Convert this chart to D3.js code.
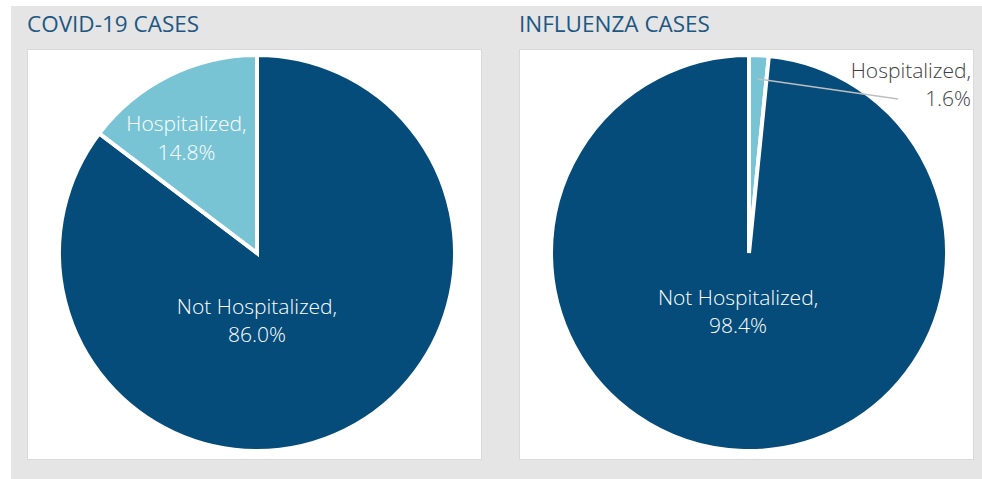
<!DOCTYPE html>
<html>
<head>
<meta charset="utf-8">
<script src="https://cdn.jsdelivr.net/npm/d3@7"></script>
<style>
  html, body { margin: 0; padding: 0; background: #fff; }
  text { font-family: "Open Sans", Lato, sans-serif; font-weight: 300; }
  text.title { font-weight: 400; }
</style>
</head>
<body>
<div id="chart"></div>
<script>
// chart data
const covidTitle = 'COVID-19 CASES';
const covidCategories = ['Not Hospitalized', 'Hospitalized'];
const covidValues = [86.0, 14.8];

const fluTitle = 'INFLUENZA CASES';
const fluCategories = ['Hospitalized', 'Not Hospitalized'];
const fluValues = [1.6, 98.4];

const colors = { 'Not Hospitalized': '#054C7A', 'Hospitalized': '#79C4D4' };

const width = 982, height = 479;

const svg = d3.select('#chart')
    .append('svg')
    .attr('width', width)
    .attr('height', height);

// gray background panel
svg.append('rect')
    .attr('x', 11).attr('y', 6)
    .attr('width', width - 11).attr('height', height - 6)
    .attr('fill', '#E5E5E5');

function drawPie(opts) {
    const { x0, title, categories, values, labelPos } = opts;
    const boxW = 454, boxH = 410, boxY = 49;
    const g = svg.append('g').attr('transform', `translate(${x0},0)`);

    g.append('text')
        .attr('class', 'title')
        .attr('x', 0)
        .attr('y', 31.5)
        .attr('font-size', '22.5px')
        .attr('fill', '#1D5782')
        .text(title);

    g.append('rect')
        .attr('x', 0.5).attr('y', boxY + 0.5)
        .attr('width', boxW).attr('height', boxH)
        .attr('fill', '#fff')
        .attr('stroke', '#D9D9D9')
        .attr('stroke-width', 1);

    const r = 198;
    const cx = 230, cy = 253;
    const data = categories.map((c, i) => ({ name: c, value: values[i] }));

    const pie = d3.pie().sort(null).value(d => d.value);
    const arcs = pie(data);
    const arc = d3.arc().innerRadius(0).outerRadius(r);

    const pg = g.append('g').attr('transform', `translate(${cx},${cy})`);

    pg.selectAll('path')
        .data(arcs)
        .enter()
        .append('path')
        .attr('d', arc)
        .attr('fill', d => colors[d.data.name])
        .attr('stroke', '#fff')
        .attr('stroke-width', 4)
        .attr('stroke-linejoin', 'miter');

    // data labels
    arcs.forEach(d => {
        const lp = labelPos[d.data.name];
        const pct = d3.format('.1f')(d.data.value) + '%';
        const t = pg.append('text')
            .attr('font-size', '21px')
            .attr('text-anchor', lp.anchor)
            .attr('fill', lp.outside ? '#404040' : '#fff');
        const lx = lp.dx * (r - 2), ly = lp.dy * (r - 2);
        t.append('tspan').attr('x', lx).attr('y', ly).text(d.data.name + ',');
        t.append('tspan').attr('x', lx).attr('y', ly + 28.5).text(pct);

        if (lp.outside) {
            // leader line from inside slice to label
            const mid = (d.startAngle + d.endAngle) / 2;
            const [sx, sy] = [Math.sin(mid) * r * 0.88, -Math.cos(mid) * r * 0.88];
            pg.append('line')
                .attr('x1', sx).attr('y1', sy)
                .attr('x2', lx - 73).attr('y2', ly + 21)
                .attr('stroke', '#BFBFBF')
                .attr('stroke-width', 1.5);
        }
    });
}

drawPie({
    x0: 27,
    title: covidTitle,
    categories: covidCategories,
    values: covidValues,
    labelPos: {
        'Hospitalized': { dx: -0.36, dy: -0.62, anchor: 'middle' },
        'Not Hospitalized': { dx: 0.0, dy: 0.311, anchor: 'middle' }
    }
});

drawPie({
    x0: 519,
    title: fluTitle,
    categories: fluCategories,
    values: fluValues,
    labelPos: {
        'Hospitalized': { dx: 1.133, dy: -0.893, anchor: 'end', outside: true },
        'Not Hospitalized': { dx: -0.056, dy: 0.265, anchor: 'middle' }
    }
});
</script>
</body>
</html>
